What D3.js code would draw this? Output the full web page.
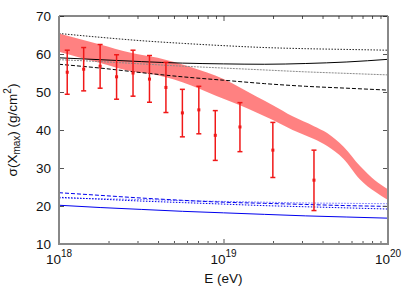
<!DOCTYPE html>
<html>
<head>
<meta charset="utf-8">
<script src="https://cdn.jsdelivr.net/npm/d3@7"></script>
<style>
  body { margin: 0; background: #fff; }
  svg { display: block; font-family: "Liberation Sans", Arial, sans-serif; }
</style>
</head>
<body>
<div id="chart"></div>
<script>
// log10(E/eV) of the data points
const binLgE = [18.05, 18.15, 18.25, 18.35, 18.45, 18.55, 18.65, 18.75, 18.85, 18.95, 19.1, 19.3, 19.55];
const sigmaVal = [55.2, 56.0, 56.8, 54.0, 55.0, 53.4, 51.2, 44.5, 45.3, 38.6, 40.8, 34.7, 26.8];
const sigmaLo = [49.4, 50.3, 51.0, 48.1, 48.9, 47.3, 44.6, 38.2, 39.0, 32.0, 34.3, 27.5, 18.8];
const sigmaHi = [61.0, 61.7, 62.5, 59.8, 61.0, 59.6, 57.8, 50.7, 51.5, 45.1, 47.2, 42.0, 34.7];

// red band (model prediction)
const bandLgE = [18.0, 18.25, 18.43, 18.6, 18.8, 19.0, 19.1, 19.2, 19.3, 19.42, 19.55, 19.63, 19.73, 19.83, 19.92, 20.0];
const bandHi = [65.4, 62.5, 60.4, 59.0, 56.6, 53.4, 51.2, 48.8, 46.5, 43.6, 41.0, 39.2, 35.6, 30.5, 26.8, 24.4];
const bandLo = [60.6, 57.6, 55.5, 54.4, 51.8, 48.2, 46.5, 44.6, 42.6, 40.0, 37.6, 35.8, 32.4, 27.0, 23.8, 21.6];

// reference curves
const curveLgE = [18.0, 18.25, 18.5, 18.75, 19.0, 19.25, 19.5, 19.75, 20.0];
const pDotted = [65.4, 64.4, 63.5, 62.8, 62.2, 61.7, 61.4, 61.2, 61.0];
const pSolid = [59.0, 58.5, 58.0, 57.6, 57.4, 57.3, 57.5, 57.9, 58.6];
const pGray = [58.5, 58.0, 57.4, 56.8, 56.3, 55.8, 55.3, 54.9, 54.5];
const pDashed = [57.3, 56.3, 55.1, 54.0, 53.1, 52.2, 51.5, 51.0, 50.5];
const feDashed = [23.5, 22.8, 22.1, 21.5, 21.0, 20.7, 20.4, 20.1, 19.9];
const feLight = [22.1, 21.9, 21.7, 21.4, 21.2, 21.0, 20.8, 20.7, 20.6];
const feDotted = [22.3, 21.8, 21.3, 20.9, 20.5, 20.1, 19.8, 19.5, 19.2];
const feSolid = [20.2, 19.6, 19.1, 18.6, 18.2, 17.8, 17.4, 17.1, 16.8];

const yTicks = [10, 20, 30, 40, 50, 60, 70];
const xMajor = [18, 19, 20];

const width = 413, height = 289;
const margin = { top: 16, right: 25, bottom: 45, left: 59 };

const svg = d3.select("#chart").append("svg")
  .attr("width", width).attr("height", height);

const x = d3.scaleLog().domain([1e18, 1e20])
  .range([margin.left, width - margin.right]);
const y = d3.scaleLinear().domain([10, 70])
  .range([height - margin.bottom, margin.top]);

const E = lg => Math.pow(10, lg);

const plot = svg.append("g");
plot.append("clipPath").attr("id", "clip").append("rect")
  .attr("x", margin.left).attr("y", margin.top)
  .attr("width", x(1e20) - x(1e18)).attr("height", y(10) - y(70));

// band
const band = bandLgE.map((lg, i) => ({ e: E(lg), lo: bandLo[i], hi: bandHi[i] }));
plot.append("path")
  .datum(band)
  .attr("clip-path", "url(#clip)")
  .attr("fill", "#ff7a7a")
  .attr("opacity", 0.95)
  .attr("d", d3.area().curve(d3.curveMonotoneX)
    .x(d => x(d.e)).y0(d => y(d.lo)).y1(d => y(d.hi)));

// curves
const curves = [
  { v: pDotted, c: "#222", dash: "1.5,1.5" },
  { v: pSolid, c: "#000", dash: null },
  { v: pGray, c: "#8a8a8a", dash: "2,1" },
  { v: pDashed, c: "#000", dash: "4,2" },
  { v: feLight, c: "#8f8fff", dash: "2,1" },
  { v: feDashed, c: "#0000ee", dash: "4,2" },
  { v: feDotted, c: "#0000ee", dash: "1.5,1.5" },
  { v: feSolid, c: "#0000ee", dash: null }
];
const line = d3.line().curve(d3.curveMonotoneX)
  .x(d => x(d[0])).y(d => y(d[1]));
curves.forEach(cv => {
  plot.append("path")
    .datum(curveLgE.map((lg, i) => [E(lg), cv.v[i]]))
    .attr("fill", "none")
    .attr("stroke", cv.c)
    .attr("stroke-width", 1)
    .attr("stroke-dasharray", cv.dash)
    .attr("d", line);
});

// error bars
const pts = binLgE.map((lg, i) => ({ e: E(lg), v: sigmaVal[i], lo: sigmaLo[i], hi: sigmaHi[i] }));
const eb = plot.append("g").attr("stroke", "#f01818").attr("stroke-width", 1.5);
eb.selectAll(".bar").data(pts).join("line")
  .attr("x1", d => x(d.e)).attr("x2", d => x(d.e))
  .attr("y1", d => y(d.lo)).attr("y2", d => y(d.hi));
eb.selectAll(".capLo").data(pts).join("line")
  .attr("x1", d => x(d.e) - 2.5).attr("x2", d => x(d.e) + 2.5)
  .attr("y1", d => y(d.lo)).attr("y2", d => y(d.lo));
eb.selectAll(".capHi").data(pts).join("line")
  .attr("x1", d => x(d.e) - 2.5).attr("x2", d => x(d.e) + 2.5)
  .attr("y1", d => y(d.hi)).attr("y2", d => y(d.hi));
plot.append("g").selectAll("rect").data(pts).join("rect")
  .attr("x", d => x(d.e) - 1.5).attr("y", d => y(d.v) - 1.5)
  .attr("width", 3).attr("height", 3).attr("fill", "#f01818");

// axes
const xTicks = [];
for (let dec = 18; dec < 20; dec++)
  for (let m = 1; m < 10; m++) xTicks.push(m * Math.pow(10, dec));
xTicks.push(1e20);
const tickLen = d => (xMajor.includes(Math.round(Math.log10(d) * 1000) / 1000) ? 5 : 3);

function styleAxis(g) {
  g.select(".domain").remove();
  g.selectAll(".tick line").attr("stroke", "#555");
  g.selectAll(".tick text").remove();
}

const xb = svg.append("g").attr("transform", `translate(0,${y(10)})`)
  .call(d3.axisBottom(x).tickValues(xTicks).tickSize(0)).call(styleAxis);
xb.selectAll(".tick line").attr("y2", d => -tickLen(d));
const xt = svg.append("g").attr("transform", `translate(0,${y(70)})`)
  .call(d3.axisTop(x).tickValues(xTicks).tickSize(0)).call(styleAxis);
xt.selectAll(".tick line").attr("y2", d => tickLen(d));

svg.append("g").attr("transform", `translate(${x(1e18)},0)`)
  .call(d3.axisLeft(y).tickValues(yTicks).tickSize(-5)).call(styleAxis);
svg.append("g").attr("transform", `translate(${x(1e20)},0)`)
  .call(d3.axisRight(y).tickValues(yTicks).tickSize(-5)).call(styleAxis);

// frame
svg.append("line").attr("x1", x(1e18)).attr("x2", x(1e20))
  .attr("y1", y(70)).attr("y2", y(70)).attr("stroke", "#111").attr("stroke-width", 1);
svg.append("line").attr("x1", x(1e18) - 1).attr("x2", x(1e20) + 1)
  .attr("y1", y(10)).attr("y2", y(10)).attr("stroke", "#888").attr("stroke-width", 2);
svg.append("line").attr("x1", x(1e18)).attr("x2", x(1e18))
  .attr("y1", y(70)).attr("y2", y(10)).attr("stroke", "#888").attr("stroke-width", 2);
svg.append("line").attr("x1", x(1e20)).attr("x2", x(1e20))
  .attr("y1", y(70)).attr("y2", y(10)).attr("stroke", "#888").attr("stroke-width", 2);

// tick labels
svg.append("g").selectAll("text").data(yTicks).join("text")
  .attr("x", x(1e18) - 8).attr("y", d => y(d) + 4.8)
  .attr("text-anchor", "end").attr("font-size", 13.5).attr("fill", "#111")
  .text(d => d);

const xl = svg.append("g").selectAll("text").data(xMajor).join("text")
  .attr("x", d => x(E(d)))
  .attr("y", 264)
  .attr("text-anchor", "middle").attr("font-size", 13.5).attr("fill", "#111");
xl.append("tspan").text("10");
xl.append("tspan").attr("dy", -7).attr("font-size", 10).text(d => d);

svg.append("text")
  .attr("x", (x(1e18) + x(1e20)) / 2).attr("y", 283)
  .attr("text-anchor", "middle").attr("font-size", 13.5).attr("fill", "#111")
  .text("E (eV)");

const yl = svg.append("text")
  .attr("transform", `translate(17,${(y(10) + y(70)) / 2}) rotate(-90)`)
  .attr("text-anchor", "middle").attr("font-size", 13.5).attr("fill", "#111");
yl.append("tspan").text("σ(X");
yl.append("tspan").attr("dy", 3).attr("font-size", 10).text("max");
yl.append("tspan").attr("dy", -3).text(") (g/cm");
yl.append("tspan").attr("dy", -6).attr("font-size", 10).text("2");
yl.append("tspan").attr("dy", 6).text(")");
</script>
</body>
</html>
